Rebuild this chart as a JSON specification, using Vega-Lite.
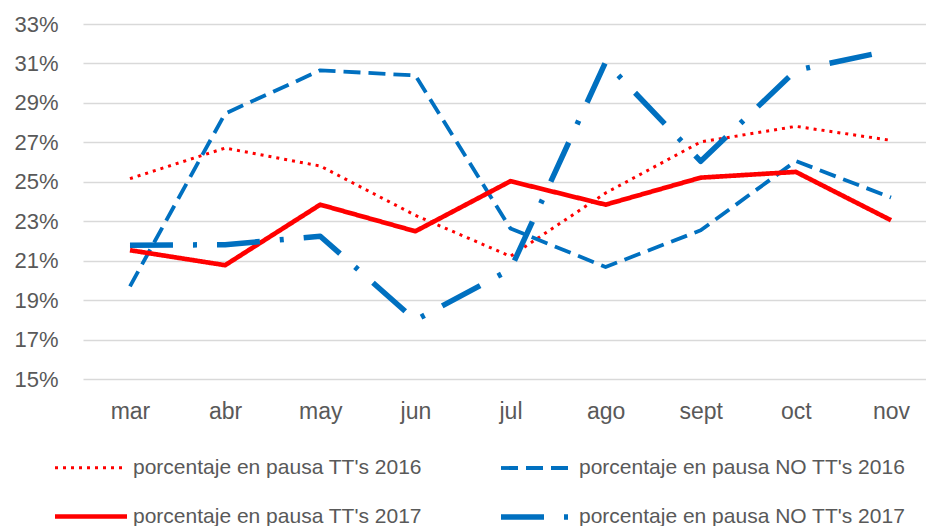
{
  "$schema": "https://vega.github.io/schema/vega-lite/v6.json",
  "autosize": "none",
  "width": 843,
  "height": 355,
  "padding": {"left": 83, "top": 24, "right": 0, "bottom": 147},
  "background": "white",
  "config": {"view": {"stroke": null}, "font": "Liberation Sans"},
  "data": {"values": [
    {"mes": "mar", "serie": "porcentaje en pausa TT's 2016", "valor": 0.2516},
    {"mes": "abr", "serie": "porcentaje en pausa TT's 2016", "valor": 0.2671},
    {"mes": "may", "serie": "porcentaje en pausa TT's 2016", "valor": 0.2580},
    {"mes": "jun", "serie": "porcentaje en pausa TT's 2016", "valor": 0.2330},
    {"mes": "jul", "serie": "porcentaje en pausa TT's 2016", "valor": 0.2122},
    {"mes": "ago", "serie": "porcentaje en pausa TT's 2016", "valor": 0.2443},
    {"mes": "sept", "serie": "porcentaje en pausa TT's 2016", "valor": 0.2702},
    {"mes": "oct", "serie": "porcentaje en pausa TT's 2016", "valor": 0.2781},
    {"mes": "nov", "serie": "porcentaje en pausa TT's 2016", "valor": 0.2710},
    {"mes": "mar", "serie": "porcentaje en pausa NO TT's 2016", "valor": 0.1970},
    {"mes": "abr", "serie": "porcentaje en pausa NO TT's 2016", "valor": 0.2846},
    {"mes": "may", "serie": "porcentaje en pausa NO TT's 2016", "valor": 0.3065},
    {"mes": "jun", "serie": "porcentaje en pausa NO TT's 2016", "valor": 0.3039},
    {"mes": "jul", "serie": "porcentaje en pausa NO TT's 2016", "valor": 0.2263},
    {"mes": "ago", "serie": "porcentaje en pausa NO TT's 2016", "valor": 0.2068},
    {"mes": "sept", "serie": "porcentaje en pausa NO TT's 2016", "valor": 0.2254},
    {"mes": "oct", "serie": "porcentaje en pausa NO TT's 2016", "valor": 0.2605},
    {"mes": "nov", "serie": "porcentaje en pausa NO TT's 2016", "valor": 0.2420},
    {"mes": "mar", "serie": "porcentaje en pausa TT's 2017", "valor": 0.2153},
    {"mes": "abr", "serie": "porcentaje en pausa TT's 2017", "valor": 0.2077},
    {"mes": "may", "serie": "porcentaje en pausa TT's 2017", "valor": 0.2384},
    {"mes": "jun", "serie": "porcentaje en pausa TT's 2017", "valor": 0.2249},
    {"mes": "jul", "serie": "porcentaje en pausa TT's 2017", "valor": 0.2503},
    {"mes": "ago", "serie": "porcentaje en pausa TT's 2017", "valor": 0.2384},
    {"mes": "sept", "serie": "porcentaje en pausa TT's 2017", "valor": 0.2521},
    {"mes": "oct", "serie": "porcentaje en pausa TT's 2017", "valor": 0.2550},
    {"mes": "nov", "serie": "porcentaje en pausa TT's 2017", "valor": 0.2305},
    {"mes": "mar", "serie": "porcentaje en pausa NO TT's 2017", "valor": 0.2178},
    {"mes": "abr", "serie": "porcentaje en pausa NO TT's 2017", "valor": 0.2181},
    {"mes": "may", "serie": "porcentaje en pausa NO TT's 2017", "valor": 0.2224},
    {"mes": "jun", "serie": "porcentaje en pausa NO TT's 2017", "valor": 0.1798},
    {"mes": "jul", "serie": "porcentaje en pausa NO TT's 2017", "valor": 0.2056},
    {"mes": "ago", "serie": "porcentaje en pausa NO TT's 2017", "valor": 0.3107},
    {"mes": "sept", "serie": "porcentaje en pausa NO TT's 2017", "valor": 0.2604},
    {"mes": "oct", "serie": "porcentaje en pausa NO TT's 2017", "valor": 0.3065},
    {"mes": "nov", "serie": "porcentaje en pausa NO TT's 2017", "valor": 0.3167}
  ]},
  "mark": {"type": "line", "strokeCap": "butt", "strokeJoin": "round"},
  "encoding": {
    "x": {
      "field": "mes", "type": "ordinal",
      "sort": ["mar", "abr", "may", "jun", "jul", "ago", "sept", "oct", "nov"],
      "scale": {"type": "point", "padding": 0.431, "align": 0.573},
      "axis": {"title": null, "domain": false, "ticks": false, "grid": false, "labelAngle": 0,
               "labelFont": "Liberation Sans", "labelFontSize": 23, "labelColor": "#595959", "labelPadding": 21}
    },
    "y": {
      "field": "valor", "type": "quantitative",
      "scale": {"domain": [0.15, 0.33], "nice": false, "zero": false},
      "axis": {"title": null, "domain": false, "ticks": false, "format": ".0%",
               "values": [0.15, 0.17, 0.19, 0.21, 0.23, 0.25, 0.27, 0.29, 0.31, 0.33],
               "gridColor": "#D9D9D9", "gridWidth": 1.5,
               "labelFont": "Liberation Sans", "labelFontSize": 22, "labelColor": "#595959", "labelPadding": 25}
    },
    "color": {
      "field": "serie", "type": "nominal",
      "scale": {
        "domain": ["porcentaje en pausa TT's 2016", "porcentaje en pausa NO TT's 2016", "porcentaje en pausa TT's 2017", "porcentaje en pausa NO TT's 2017"],
        "range": ["#FF0000", "#0070C0", "#FF0000", "#0070C0"]
      },
      "legend": {
        "title": null, "orient": "none", "legendX": -31, "legendY": 406,
        "columns": 2, "direction": "horizontal", "gridAlign": "each",
        "columnPadding": 68, "rowPadding": -25,
        "symbolType": "stroke", "symbolSize": 5184, "labelOffset": 3,
        "labelFont": "Liberation Sans", "labelFontSize": 21, "labelColor": "#595959", "labelLimit": 500
      }
    },
    "strokeDash": {
      "field": "serie", "type": "nominal",
      "scale": {
        "domain": ["porcentaje en pausa TT's 2016", "porcentaje en pausa NO TT's 2016", "porcentaje en pausa TT's 2017", "porcentaje en pausa NO TT's 2017"],
        "range": [[3, 5], [17, 8], [1, 0], [43, 20, 4, 20]]
      },
      "legend": {
        "title": null, "orient": "none", "legendX": -31, "legendY": 406,
        "columns": 2, "direction": "horizontal", "gridAlign": "each",
        "columnPadding": 68, "rowPadding": -25,
        "symbolType": "stroke", "symbolSize": 5184, "labelOffset": 3,
        "labelFont": "Liberation Sans", "labelFontSize": 21, "labelColor": "#595959", "labelLimit": 500
      }
    },
    "strokeWidth": {
      "field": "serie", "type": "nominal",
      "scale": {
        "domain": ["porcentaje en pausa TT's 2016", "porcentaje en pausa NO TT's 2016", "porcentaje en pausa TT's 2017", "porcentaje en pausa NO TT's 2017"],
        "range": [3, 5.5, 5.5, 5.5]
      },
      "legend": {
        "title": null, "orient": "none", "legendX": -31, "legendY": 406,
        "columns": 2, "direction": "horizontal", "gridAlign": "each",
        "columnPadding": 68, "rowPadding": -25,
        "symbolType": "stroke", "symbolSize": 5184, "labelOffset": 3,
        "labelFont": "Liberation Sans", "labelFontSize": 21, "labelColor": "#595959", "labelLimit": 500
      }
    }
  }
}
